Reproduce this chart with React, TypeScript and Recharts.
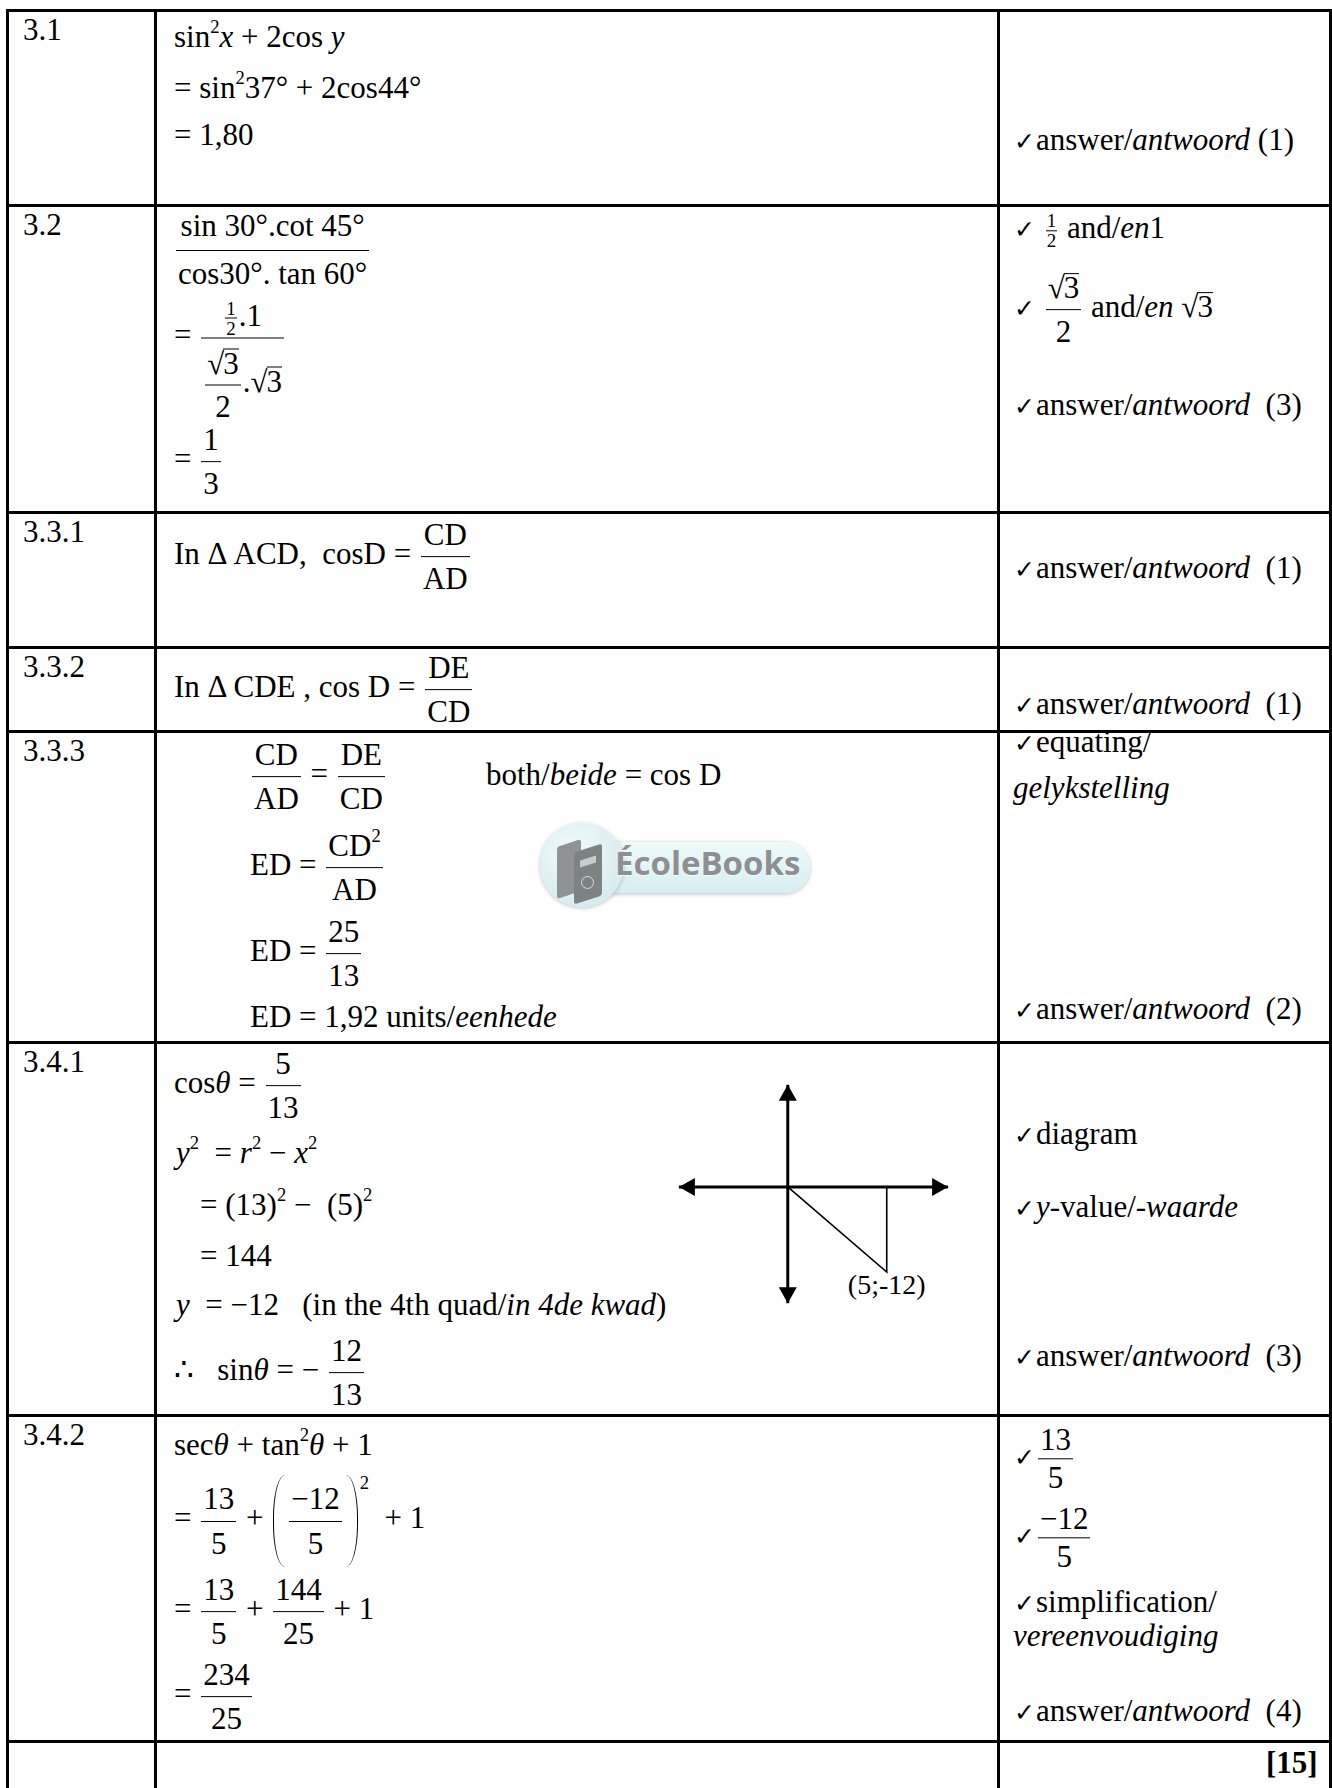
import React from 'react';
import { ScatterChart, Scatter, XAxis, YAxis, ReferenceDot } from 'recharts';

// diagram data (3.4.1): axes, triangle and the point label
const axisX = [{ x: -5.5, y: 0 }, { x: 8.1, y: 0 }];
const axisY = [{ x: 0, y: 14.4 }, { x: 0, y: -16.4 }];
const axisTips = [...axisX, ...axisY];
const triangle = [{ x: 0, y: 0 }, { x: 5, y: -12 }, { x: 5, y: 0 }];
const pointLabel = '(5;-12)';

// table grid
const colLines = [7, 155, 998, 1330];
const rowLines = [10, 205, 512, 647, 731, 1042, 1415, 1741];
const rowLabels = ['3.1', '3.2', '3.3.1', '3.3.2', '3.3.3', '3.4.1', '3.4.2'];

const SERIF = '"Liberation Serif", "Times New Roman", serif';

function Sup({ children }: any) {
  return <span style={{ fontSize: '0.6em', position: 'relative', top: '-0.75em' }}>{children}</span>;
}

function Frac({ n, d, size, nh, dh, pad = 2, lh = 1.4 }: any) {
  return (
    <span style={{ display: 'inline-flex', flexDirection: 'column', alignItems: 'center', verticalAlign: 'middle', margin: '0 2px', fontSize: size, lineHeight: lh }}>
      <span style={{ display: 'flex', alignItems: 'flex-end', justifyContent: 'center', minHeight: nh, padding: `0 ${pad}px` }}>
        <span>{n}</span>
      </span>
      <span style={{ alignSelf: 'stretch', borderTop: '1.5px solid #000' }} />
      <span style={{ display: 'flex', alignItems: 'flex-start', justifyContent: 'center', minHeight: dh, padding: `0 ${pad}px` }}>
        <span>{d}</span>
      </span>
    </span>
  );
}

function Sqrt({ children }: any) {
  return (
    <span style={{ whiteSpace: 'nowrap' }}>
      √
      <span style={{ display: 'inline-block', lineHeight: 0.92, borderTop: '1.5px solid #000', marginLeft: -1 }}>{children}</span>
    </span>
  );
}

function Paren({ side }: any) {
  const l = side === 'l';
  return (
    <span
      style={{
        display: 'inline-block',
        verticalAlign: 'middle',
        width: 11,
        height: 92,
        margin: '0 2px',
        borderLeft: l ? '1.5px solid #000' : 'none',
        borderRight: l ? 'none' : '1.5px solid #000',
        borderRadius: l ? '13px 0 0 13px / 46px 0 0 46px' : '0 13px 13px 0 / 0 46px 46px 0',
      }}
    />
  );
}

function At({ x, y, children, size = 31, style }: any) {
  return (
    <div
      style={{
        position: 'absolute',
        left: x,
        top: y,
        transform: 'translateY(-50%)',
        whiteSpace: 'nowrap',
        fontSize: size,
        lineHeight: 1.2,
        ...style,
      }}
    >
      {children}
    </div>
  );
}

const Tick = () => (
  <span style={{ fontFamily: '"DejaVu Sans", sans-serif', fontSize: 25, marginRight: 1 }}>✓</span>
);

function Answer({ y, n, gap = '\u00a0\u00a0' }: any) {
  return (
    <At x={1014} y={y}>
      <Tick />
      answer/<i>antwoord</i>
      {gap}({n})
    </At>
  );
}

function ArrowHead(props: any) {
  const { cx, cy, payload } = props;
  const p = payload || {};
  const L = 16;
  const W = 9;
  let pts = '';
  if (p.x > 0) pts = `${cx},${cy} ${cx - L},${cy - W} ${cx - L},${cy + W}`;
  else if (p.x < 0) pts = `${cx},${cy} ${cx + L},${cy - W} ${cx + L},${cy + W}`;
  else if (p.y > 0) pts = `${cx},${cy} ${cx - W},${cy + L} ${cx + W},${cy + L}`;
  else pts = `${cx},${cy} ${cx - W},${cy - L} ${cx + W},${cy - L}`;
  return <polygon points={pts} fill="#000" />;
}

const NoDot = () => <g />;

function Diagram() {
  return (
    <div style={{ position: 'absolute', left: 669, top: 1077 }}>
      <ScatterChart width={289} height={234} margin={{ top: 0, right: 0, bottom: 0, left: 0 }}>
        <XAxis type="number" dataKey="x" domain={[-6, 8.6]} hide />
        <YAxis type="number" dataKey="y" domain={[-17.5, 15.5]} hide />
        <Scatter data={axisX} line={{ stroke: '#000', strokeWidth: 3 }} shape={NoDot} isAnimationActive={false} />
        <Scatter data={axisY} line={{ stroke: '#000', strokeWidth: 3 }} shape={NoDot} isAnimationActive={false} />
        <Scatter data={triangle} line={{ stroke: '#000', strokeWidth: 1.6 }} shape={NoDot} isAnimationActive={false} />
        <Scatter data={axisTips} shape={ArrowHead} isAnimationActive={false} />
        <ReferenceDot
          x={5}
          y={-12}
          r={0}
          fill="none"
          stroke="none"
          label={{ value: pointLabel, position: 'bottom', offset: 2, fill: '#000', fontSize: 28, fontFamily: SERIF }}
        />
      </ScatterChart>
    </div>
  );
}

function Watermark() {
  return (
    <>
      <div
        style={{
          position: 'absolute', left: 560, top: 842, width: 250, height: 51, borderRadius: 26,
          background: 'linear-gradient(#eefafa, #d6eff1)', boxShadow: '0 1px 4px rgba(120,140,145,0.55)',
        }}
      />
      <div
        style={{
          position: 'absolute', left: 540, top: 823, width: 84, height: 84, borderRadius: '50%',
          background: 'radial-gradient(circle at 40% 35%, #f2fbfb, #cde6ea)', boxShadow: '0 1px 4px rgba(120,140,145,0.55)',
        }}
      />
      <div style={{ position: 'absolute', left: 557, top: 843, width: 24, height: 52, background: '#8f9394', borderRadius: 3, transform: 'skewY(-18deg)' }} />
      <div style={{ position: 'absolute', left: 574, top: 848, width: 28, height: 52, background: '#7d8283', borderRadius: 3, transform: 'skewY(-18deg)' }} />
      <div style={{ position: 'absolute', left: 580, top: 858, width: 16, height: 7, background: '#c9cccd', transform: 'skewY(-18deg)' }} />
      <div style={{ position: 'absolute', left: 581, top: 876, width: 11, height: 11, borderRadius: '50%', border: '1.5px solid #d8dbdc' }} />
      <div
        style={{
          position: 'absolute', left: 615, top: 862, transform: 'translateY(-50%)', fontFamily: '"Open Sans", sans-serif',
          fontWeight: 700, fontSize: 33, color: '#8d8f90', textShadow: '0 1px 1px rgba(255,255,255,0.8)', whiteSpace: 'nowrap',
        }}
      >
        ÉcoleBooks
      </div>
    </>
  );
}

export default function App() {
  const labelY = rowLines.slice(0, rowLabels.length).map((y) => y + 20);
  return (
    <div style={{ position: 'relative', width: 1332, height: 1788, background: '#fff', fontFamily: SERIF, color: '#000', overflow: 'hidden' }}>
      <style>{'body{margin:0}'}</style>

      {colLines.map((x) => (
        <div key={'c' + x} style={{ position: 'absolute', left: x - 1, top: rowLines[0] - 1, width: 2.5, height: 1788, background: '#000' }} />
      ))}
      {rowLines.map((y) => (
        <div key={'r' + y} style={{ position: 'absolute', left: colLines[0] - 1, top: y - 1, width: colLines[3] - colLines[0] + 2.5, height: 2.5, background: '#000' }} />
      ))}

      {rowLabels.map((t, i) => (
        <At key={t} x={23} y={labelY[i]}>{t}</At>
      ))}

      <Watermark />

      {/* 3.1 */}
      <At x={174} y={37}>sin<Sup>2</Sup><i>x</i> + 2cos <i>y</i></At>
      <At x={174} y={88}>= sin<Sup>2</Sup>37° + 2cos44°</At>
      <At x={174} y={135}>= 1,80</At>
      <Answer y={140} n={1} gap=" " />

      {/* 3.2 */}
      <At x={174} y={250}>
        <Frac n="sin 30°.cot 45°" d="cos30°. tan 60°" lh={1.5} />
      </At>
      <At x={174} y={338}>
        ={' '}
        <Frac
          nh={92}
          dh={92}
          n={<span><Frac n="1" d="2" size={19} pad={1} lh={1} />.1</span>}
          d={<span style={{ display: 'inline-block', paddingTop: 4 }}><Frac n={<Sqrt>3</Sqrt>} d="2" lh={1.35} />.<Sqrt>3</Sqrt></span>}
        />
      </At>
      <At x={174} y={462}>
        = <Frac n="1" d="3" />
      </At>
      <At x={1014} y={230}>
        <Tick /> <Frac n="1" d="2" size={19} pad={1} lh={1} /> and/<i>en</i>1
      </At>
      <At x={1014} y={310}>
        <Tick /> <Frac n={<Sqrt>3</Sqrt>} d="2" /> and/<i>en</i> <Sqrt>3</Sqrt>
      </At>
      <Answer y={405} n={3} />

      {/* 3.3.1 */}
      <At x={174} y={557}>
        In Δ ACD,&nbsp; cosD = <Frac n="CD" d="AD" />
      </At>
      <Answer y={568} n={1} />

      {/* 3.3.2 */}
      <At x={174} y={690}>
        In Δ CDE , cos D = <Frac n="DE" d="CD" />
      </At>
      <Answer y={704} n={1} />

      {/* 3.3.3 */}
      <At x={250} y={777}>
        <Frac n="CD" d="AD" /> = <Frac n="DE" d="CD" />
      </At>
      <At x={486} y={775}>
        both/<i>beide</i> = cos D
      </At>
      <At x={250} y={868}>
        ED = <Frac n={<span>CD<Sup>2</Sup></span>} d="AD" />
      </At>
      <At x={250} y={954}>
        ED = <Frac n="25" d="13" />
      </At>
      <At x={250} y={1017}>
        ED = 1,92 units/<i>eenhede</i>
      </At>
      <At x={1014} y={742}>
        <Tick />equating/
      </At>
      <At x={1013} y={788}>
        <i>gelykstelling</i>
      </At>
      <Answer y={1009} n={2} />

      {/* 3.4.1 */}
      <At x={174} y={1086}>
        cos<i>θ</i> = <Frac n="5" d="13" />
      </At>
      <At x={176} y={1153}>
        <i>y</i><Sup>2</Sup>&nbsp; = <i>r</i><Sup>2</Sup> − <i>x</i><Sup>2</Sup>
      </At>
      <At x={200} y={1205}>
        = (13)<Sup>2</Sup> −&nbsp; (5)<Sup>2</Sup>
      </At>
      <At x={200} y={1256}>
        = 144
      </At>
      <At x={176} y={1305}>
        <i>y</i>&nbsp; = −12&nbsp;&nbsp; (in the 4th quad/<i>in 4de kwad</i>)
      </At>
      <At x={174} y={1373}>
        ∴&nbsp;&nbsp; sin<i>θ</i> = − <Frac n="12" d="13" />
      </At>
      <Diagram />
      <At x={1014} y={1134}>
        <Tick />diagram
      </At>
      <At x={1014} y={1207}>
        <Tick /><i>y</i>-value/-<i>waarde</i>
      </At>
      <Answer y={1356} n={3} />

      {/* 3.4.2 */}
      <At x={174} y={1445}>
        sec<i>θ</i> + tan<Sup>2</Sup><i>θ</i> + 1
      </At>
      <At x={174} y={1521}>
        = <Frac n="13" d="5" /> + <Paren side="l" />
        <Frac n="−12" d="5" />
        <Paren side="r" />
        <span style={{ fontSize: '0.6em', position: 'relative', top: '-2.1em' }}>2</span>&nbsp; + 1
      </At>
      <At x={174} y={1612}>
        = <Frac n="13" d="5" /> + <Frac n="144" d="25" /> + 1
      </At>
      <At x={174} y={1697}>
        = <Frac n="234" d="25" />
      </At>
      <At x={1014} y={1459}>
        <Tick /><Frac n="13" d="5" lh={1.2} />
      </At>
      <At x={1014} y={1538}>
        <Tick /><Frac n="−12" d="5" lh={1.2} />
      </At>
      <At x={1014} y={1602}>
        <Tick />simplification/
      </At>
      <At x={1013} y={1636}>
        <i>vereenvoudiging</i>
      </At>
      <Answer y={1711} n={4} />

      <At x={1266} y={1763} style={{ fontWeight: 700 }}>
        [15]
      </At>
    </div>
  );
}
